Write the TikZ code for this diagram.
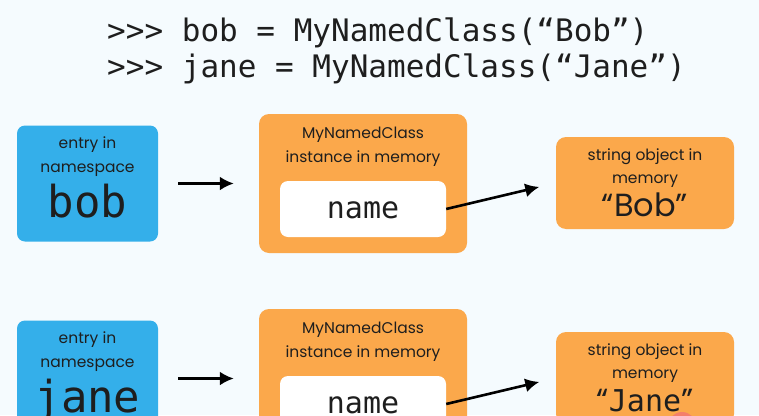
\documentclass[tikz,border=0pt]{standalone}
\usepackage{fontspec}
\setmainfont{Poppins}
\newfontfamily\codefont{DejaVu Sans Mono}
\usepackage{xcolor}
\usetikzlibrary{positioning, arrows.meta}

\definecolor{bgpale}{RGB}{245,251,254}
\definecolor{nsblue}{RGB}{52,175,234}
\definecolor{objorange}{RGB}{251,168,75}
\definecolor{inkdark}{RGB}{30,30,30}
\definecolor{cursorred}{RGB}{244,127,106}

\tikzset{
  entrybox/.style={fill=nsblue, rounded corners=8pt, minimum width=141pt, minimum height=116pt, inner sep=0pt},
  objbox/.style={fill=objorange, rounded corners=10pt, minimum width=208pt, minimum height=139pt, inner sep=0pt},
  slotbox/.style={fill=white, rounded corners=8pt, minimum width=166pt, minimum height=56pt, inner sep=0pt},
  strbox/.style={fill=objorange, rounded corners=10pt, minimum width=178pt, minimum height=92pt, inner sep=0pt},
  small/.style={anchor=base, inner sep=0pt, text=inkdark, font=\fontsize{15.5}{18}\selectfont},
  bigcode/.style={anchor=base, inner sep=0pt, text=inkdark, font=\codefont\fontsize{44}{48}\selectfont},
  slotcode/.style={anchor=base, inner sep=0pt, text=inkdark, font=\codefont\fontsize{30}{32}\selectfont},
  prompt/.style={anchor=base west, inner sep=0pt, text=inkdark, font=\codefont\fontsize{31}{36}\selectfont},
  ptr/.style={-{Latex[length=14pt,width=14pt]}, line width=2.6pt, black}
}

\begin{document}
\begin{tikzpicture}[x=1pt, y=-1pt]
    \useasboundingbox (0,0) rectangle (759,415);
    \clip (0,0) rectangle (759,415);
    \fill[bgpale] (0,0) rectangle (759,415);

    % interpreter lines
    \node[prompt] (line1) at (107,41) {>>> bob = MyNamedClass(“Bob”)};
    \node[prompt] (line2) at (107,77) {>>> jane = MyNamedClass(“Jane”)};

    % bob row
    \node[entrybox] (bobns) at (87.5,183.5) {};
    \node[small] (bobns1) at (87.5,148) {entry in};
    \node[small] (bobns2) at (87.5,172) {namespace};
    \node[bigcode] (bobns3) at (87.5,217) {bob};

    \node[objbox] (bobobj) at (363,183.5) {};
    \node[small] (bobobj1) at (363,138) {MyNamedClass};
    \node[small] (bobobj2) at (363,162) {instance in memory};
    \node[slotbox] (bobslot) at (363,209) {};
    \node[slotcode] (bobname) at (363,218) {name};

    \node[strbox] (bobstr) at (645,183) {};
    \node[small] (bobstr1) at (645,160) {string object in};
    \node[small] (bobstr2) at (645,183) {memory};
    \node[anchor=base, inner sep=0pt, text=inkdark, font=\fontsize{32}{34}\selectfont] (bobstr3) at (645,216) {“Bob”};

    \draw[ptr, shorten <=20pt, shorten >=25pt] (bobns) -- (bobobj);
    \draw[ptr, shorten >=17pt] (bobslot.east) -- (bobstr.west);

    % jane row
    \node[entrybox] (janens) at (87.5,378.5) {};
    \node[small] (janens1) at (87.5,343) {entry in};
    \node[small] (janens2) at (87.5,367) {namespace};
    \node[bigcode] (janens3) at (87.5,412) {jane};

    \node[objbox] (janeobj) at (363,378.5) {};
    \node[small] (janeobj1) at (363,333) {MyNamedClass};
    \node[small] (janeobj2) at (363,357) {instance in memory};
    \node[slotbox] (janeslot) at (363,404) {};
    \node[slotcode] (janename) at (363,413) {name};

    \node[strbox] (janestr) at (645,378) {};
    \node[small] (janestr1) at (645,355) {string object in};
    \node[small] (janestr2) at (645,378) {memory};
    \node[anchor=base, inner sep=0pt, text=inkdark, font=\fontsize{32}{34}\selectfont] (janestr3) at (645,411) {“{\codefont\fontsize{30}{32}\selectfont Jane}”};

    \draw[ptr, shorten <=20pt, shorten >=25pt] (janens) -- (janeobj);
    \draw[ptr, shorten >=17pt] (janeslot.east) -- (janestr.west);

    % pointer highlight
    \fill[cursorred] (682,426) circle (14);
\end{tikzpicture}
\end{document}
